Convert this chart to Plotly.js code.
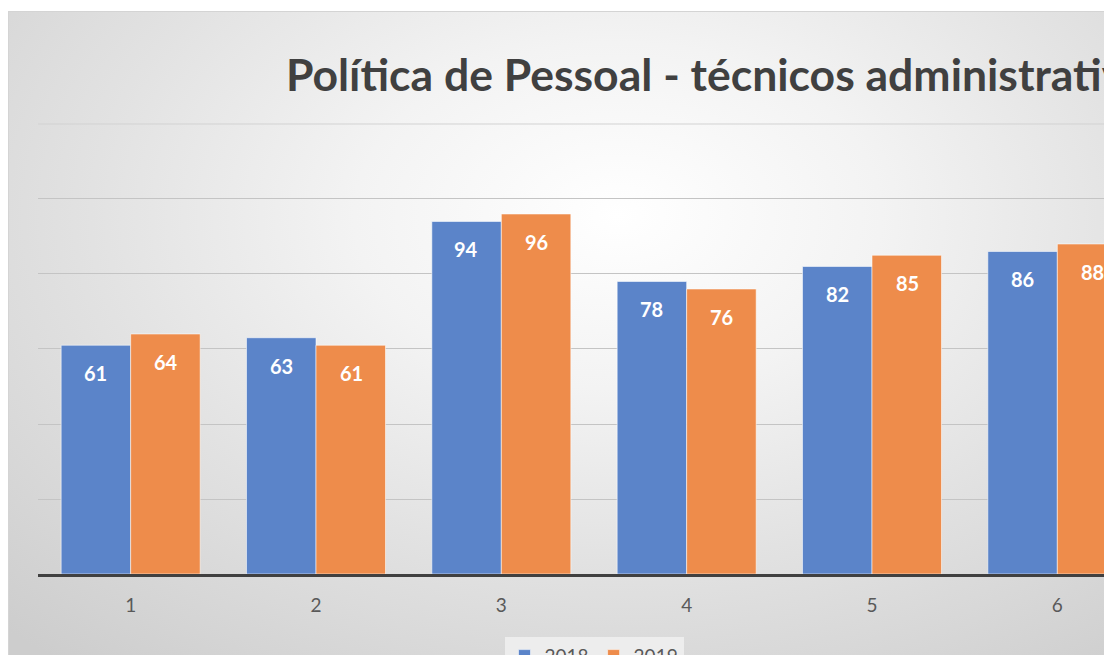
<!DOCTYPE html>
<html>
<head>
<meta charset="utf-8">
<script src="https://cdn.plot.ly/plotly-3.0.1.min.js"></script>
<style>
  html, body { margin: 0; padding: 0; width: 1104px; height: 655px; overflow: hidden; background: #ffffff; }
  #wrap {
    position: absolute; left: 8px; top: 11px; width: 1172px; height: 680px;
    border-top: 1px solid #d4d4d4; border-left: 1px solid #d4d4d4; box-sizing: border-box;
    background: radial-gradient(ellipse 75% 85% at 52% 30%, #ffffff 0%, #f3f3f3 30%, #e2e2e2 60%, #cdcdcd 100%);
  }
  #chart { width: 1172px; height: 680px; position: absolute; left: -1px; top: -1px; }
</style>
</head>
<body>
<div id="wrap"><div id="chart"></div></div>
<script>
const categories = ['1', '2', '3', '4', '5', '6'];
const seriesNames = ['2018', '2019'];
const values2018 = [61, 63, 94, 78, 82, 86];
const values2019 = [64, 61, 96, 76, 85, 88];
const yTicks = [0, 20, 40, 60, 80, 100, 120];
const titleText = 'Política de Pessoal - técnicos administrativos';

const FONT = 'Lato, "Open Sans", sans-serif';
const colors = ['#5b84c9', '#ee8c4b'];
const series = [values2018, values2019];

const traces = series.map((vals, i) => ({
  type: 'bar',
  name: seriesNames[i],
  x: categories,
  y: vals,
  marker: { color: colors[i], line: { color: 'rgba(255,255,255,0.55)', width: 1 } },
  hoverinfo: 'skip'
}));

const annotations = [];
series.forEach((vals, i) => {
  vals.forEach((v, k) => {
    annotations.push({
      x: k, y: v, xref: 'x', yref: 'y',
      text: '<b>' + v + '</b>', showarrow: false,
      xshift: i === 0 ? -35 : 35, yshift: -28, yanchor: 'middle',
      font: { family: FONT, size: 20, color: '#ffffff' }
    });
  });
});

const topTick = yTicks[yTicks.length - 1];

const layout = {
  width: 1172, height: 680,
  paper_bgcolor: 'rgba(0,0,0,0)',
  plot_bgcolor: 'rgba(0,0,0,0)',
  margin: { l: 30, r: 30, t: 105, b: 117 },
  title: {
    text: '<b>' + titleText + '</b>',
    font: { family: FONT, size: 44.5, color: '#404040' },
    xref: 'container', x: 0.2372, xanchor: 'left',
    yref: 'container', y: 0.905, yanchor: 'middle'
  },
  barmode: 'group',
  bargap: 0.25,
  bargroupgap: 0,
  xaxis: {
    type: 'category',
    range: [-0.5, categories.length - 0.5],
    showline: true, linecolor: '#404040', linewidth: 3,
    showgrid: false, ticks: '',
    ticklabelstandoff: 12,
    tickfont: { family: FONT, size: 19, color: '#595959' },
    fixedrange: true
  },
  yaxis: {
    range: [0, 122.13], tickvals: yTicks.slice(0, -1),
    showticklabels: false, showgrid: true, gridcolor: '#c4c4c4', gridwidth: 1,
    zeroline: false, showline: false, fixedrange: true
  },
  shapes: [{
    type: 'line', layer: 'below', xref: 'paper', yref: 'y',
    x0: 0, x1: 1, y0: topTick, y1: topTick,
    line: { color: '#d2d2d2', width: 1 }
  }],
  showlegend: true,
  legend: {
    orientation: 'h', x: 0.5, xanchor: 'center', y: -0.137, yanchor: 'top',
    bgcolor: 'rgba(245,245,245,0.7)',
    font: { family: FONT, size: 19, color: '#595959' },
    itemwidth: 30
  },
  annotations: annotations
};

Plotly.newPlot('chart', traces, layout, { displayModeBar: false, staticPlot: true });
</script>
</body>
</html>
